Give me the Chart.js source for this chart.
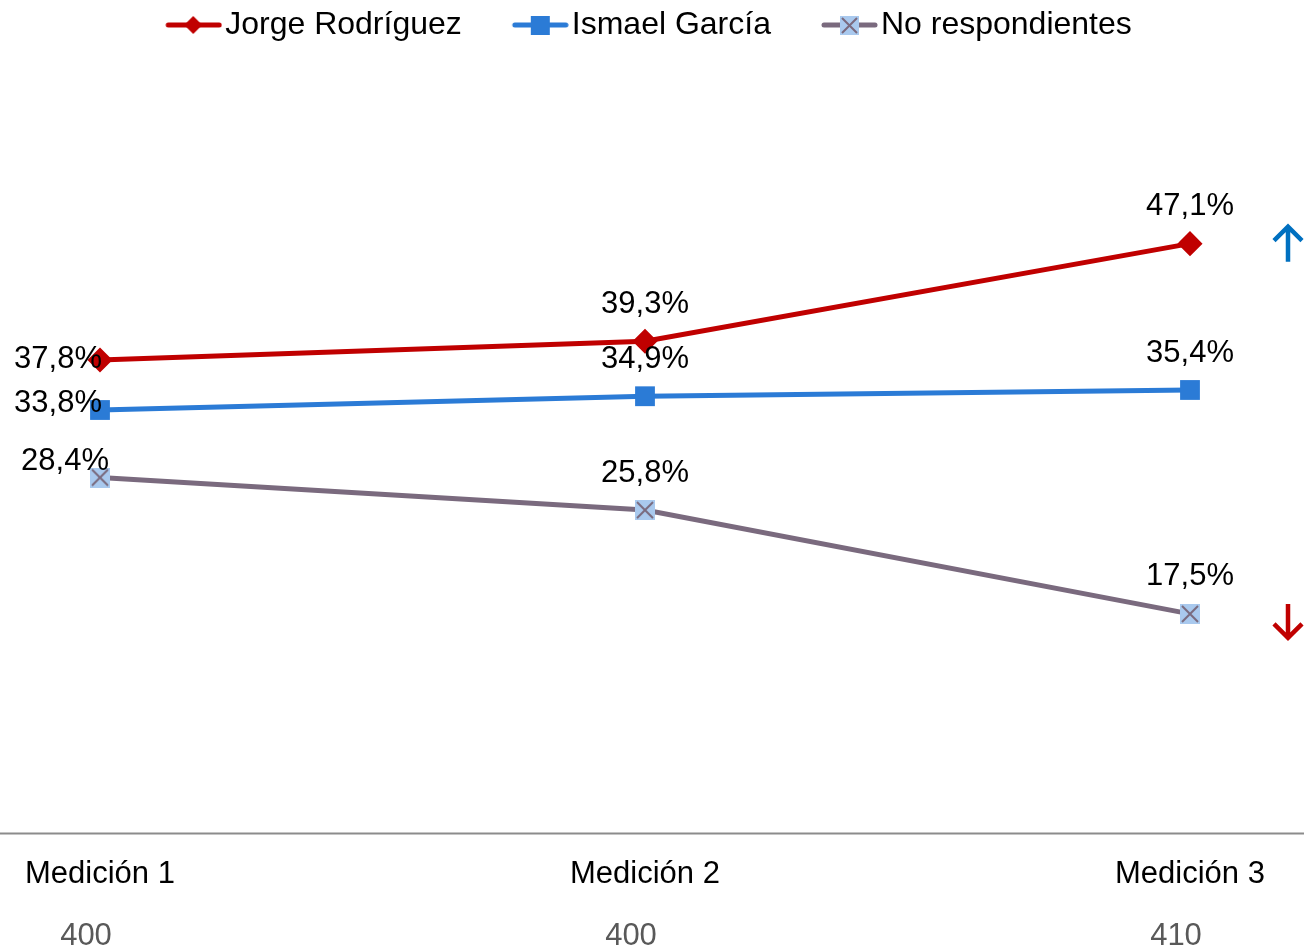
<!DOCTYPE html>
<html>
<head>
<meta charset="utf-8">
<script src="https://cdn.jsdelivr.net/npm/chart.js@4.4.1/dist/chart.umd.min.js"></script>
<style>
  body { margin: 0; background: #fff; }
</style>
</head>
<body>
<canvas id="trend-chart" width="1304" height="950"></canvas>
<script>
// Data
const categories = ['Medición 1', 'Medición 2', 'Medición 3'];
const sampleSizes = ['400', '400', '410'];
const jorgeValues = [37.8, 39.3, 47.1];
const ismaelValues = [33.8, 34.9, 35.4];
const noRespValues = [28.4, 25.8, 17.5];

const FONT = "'Liberation Sans', Arial, sans-serif";
const RED = '#C00000';
const BLUE = '#2B7BD6';
const GREY = '#7A6A7E';
const PALE = '#A9C9EE';

// marker for "No respondientes": pale square with a cross
function crossSquare(size) {
  const c = document.createElement('canvas');
  c.width = size; c.height = size;
  const g = c.getContext('2d');
  g.fillStyle = PALE;
  g.fillRect(0, 0, size, size);
  g.strokeStyle = GREY;
  g.lineWidth = 2;
  g.beginPath();
  g.moveTo(2, 2); g.lineTo(size - 2, size - 2);
  g.moveTo(size - 2, 2); g.lineTo(2, size - 2);
  g.stroke();
  return c;
}

// legend icon: line with the marker on it (left part of canvas kept empty so the text sits close)
function legendIcon(color, marker) {
  const c = document.createElement('canvas');
  c.width = 77; c.height = 24;
  const g = c.getContext('2d');
  const x0 = 20, x1 = 77, cx = 48, cy = 12;
  g.strokeStyle = color;
  g.lineWidth = 5;
  g.lineCap = 'round';
  g.beginPath(); g.moveTo(x0 + 3, cy); g.lineTo(x1 - 3, cy); g.stroke();
  if (marker === 'diamond') {
    g.fillStyle = color;
    g.beginPath();
    g.moveTo(cx, cy - 9); g.lineTo(cx + 9, cy); g.lineTo(cx, cy + 9); g.lineTo(cx - 9, cy);
    g.closePath(); g.fill();
  } else if (marker === 'square') {
    g.fillStyle = color;
    g.fillRect(cx - 9, cy - 9, 19, 19);
  } else {
    g.drawImage(crossSquare(19), cx - 9, cy - 9);
  }
  return c;
}

const legendIcons = [legendIcon(RED, 'diamond'), legendIcon(BLUE, 'square'), legendIcon(GREY, 'cross')];

// where the first label of each series sits (left of the point)
const firstLabelShift = [{dx: 2, dy: -1}, {dx: 2, dy: -7}, {dx: 9, dy: -16}];

// simple stroked arrow, dir = -1 up, 1 down
function drawArrow(ctx, x, yFrom, yTo, color) {
  const dir = Math.sign(yTo - yFrom);
  ctx.save();
  ctx.strokeStyle = color;
  ctx.lineWidth = 4.5;
  ctx.lineJoin = 'miter';
  ctx.beginPath();
  ctx.moveTo(x, yFrom);
  ctx.lineTo(x, yTo);
  ctx.moveTo(x - 14, yTo - dir * 14);
  ctx.lineTo(x, yTo);
  ctx.lineTo(x + 14, yTo - dir * 14);
  ctx.stroke();
  ctx.restore();
}

const extras = {
  id: 'extras',
  beforeDatasetsDraw(chart) {
    const ctx = chart.ctx;
    const y0 = Math.round(chart.scales.y.getPixelForValue(0)) + 0.5;
    ctx.save();
    ctx.strokeStyle = '#8C8C8C';
    ctx.lineWidth = 2;
    ctx.beginPath();
    ctx.moveTo(0, y0);
    ctx.lineTo(chart.width, y0);
    ctx.stroke();
    ctx.restore();
  },
  afterDatasetsDraw(chart) {
    const ctx = chart.ctx;
    ctx.save();
    ctx.font = '31px ' + FONT;
    ctx.fillStyle = '#000';
    ctx.textBaseline = 'middle';
    chart.data.datasets.forEach((ds, i) => {
      chart.getDatasetMeta(i).data.forEach((pt, j) => {
        const txt = ds.data[j].toFixed(1).replace('.', ',') + '%';
        if (j === 0) {
          ctx.textAlign = 'right';
          ctx.fillText(txt, pt.x + firstLabelShift[i].dx, pt.y + firstLabelShift[i].dy);
        } else {
          ctx.textAlign = 'center';
          ctx.fillText(txt, pt.x, pt.y - 37);
        }
      });
    });

    // sample sizes under the categories
    ctx.font = '31px ' + FONT;
    ctx.fillStyle = '#595959';
    ctx.textAlign = 'center';
    const xs = chart.scales.x;
    sampleSizes.forEach((n, j) => {
      ctx.fillText(n, xs.getPixelForValue(j) - 14, 936);
    });
    ctx.restore();

    // trend arrows next to the last points
    const up = chart.getDatasetMeta(0).data[2];
    const down = chart.getDatasetMeta(2).data[2];
    drawArrow(ctx, 1288, up.y + 18, up.y - 17, '#0070C0');
    drawArrow(ctx, 1288, down.y - 10, down.y + 24, RED);
  }
};

const ctx = document.getElementById('trend-chart').getContext('2d');
const trendChart = new Chart(ctx, {
  type: 'line',
  data: {
    labels: categories,
    datasets: [{
      label: 'Jorge Rodríguez',
      data: jorgeValues,
      borderColor: RED,
      backgroundColor: RED,
      borderWidth: 5,
      pointStyle: 'rectRot',
      pointRadius: 9,
      clip: false
    }, {
      label: 'Ismael García',
      data: ismaelValues,
      borderColor: BLUE,
      backgroundColor: BLUE,
      borderWidth: 5,
      pointStyle: 'rect',
      pointRadius: 14,
      pointBorderWidth: 0,
      clip: false
    }, {
      label: 'No respondientes',
      data: noRespValues,
      borderColor: GREY,
      backgroundColor: PALE,
      borderWidth: 5,
      pointStyle: crossSquare(20),
      clip: false
    }]
  },
  options: {
    responsive: false,
    animation: false,
    events: [],
    layout: { padding: { left: 100, right: 114, top: -34, bottom: 34 } },
    scales: {
      x: {
        grid: { display: false, drawTicks: false },
        border: { display: false },
        ticks: { color: '#000', font: { family: FONT, size: 31 }, padding: 23, maxRotation: 0 }
      },
      y: {
        display: false,
        min: 0,
        max: 62.5
      }
    },
    plugins: {
      tooltip: { enabled: false },
      legend: {
        position: 'top',
        labels: {
          usePointStyle: true,
          pointStyleWidth: 51,
          padding: 43,
          color: '#000',
          font: { family: FONT, size: 32 },
          generateLabels: chart => chart.data.datasets.map((ds, i) => ({
            text: ds.label,
            pointStyle: legendIcons[i],
            fillStyle: ds.borderColor,
            strokeStyle: ds.borderColor,
            lineWidth: 0,
            hidden: false,
            fontColor: '#000',
            datasetIndex: i
          }))
        }
      }
    }
  },
  plugins: [extras]
});
</script>
</body>
</html>
